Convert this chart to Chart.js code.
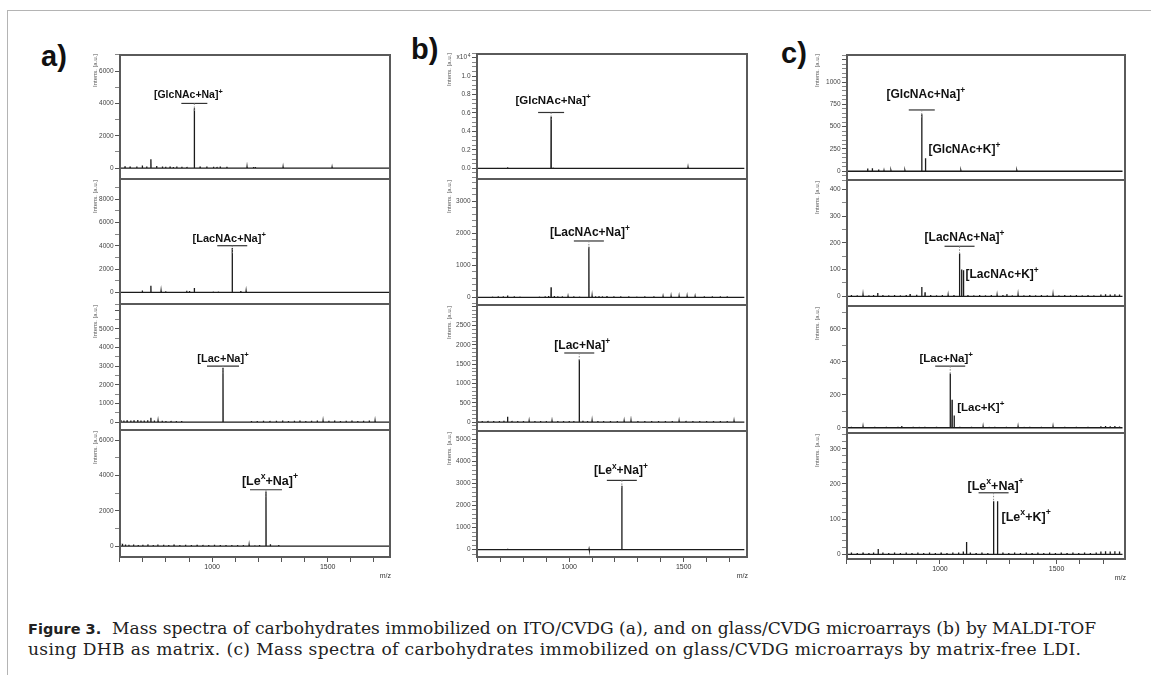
<!DOCTYPE html>
<html>
<head>
<meta charset="utf-8">
<script src="https://cdn.jsdelivr.net/npm/chart.js@4.4.1/dist/chart.umd.min.js"></script>
<style>
  body { margin: 0; width: 1151px; height: 675px; background: #fff; position: relative; overflow: hidden; }
  .rule-top { position: absolute; left: 7px; top: 10px; width: 1144px; height: 0; border-top: 1.5px solid #b4b4b4; }
  .rule-left { position: absolute; left: 7px; top: 10px; width: 0; height: 665px; border-left: 1.5px solid #b4b4b4; }
  .plot { position: absolute; }
  .tag { position: absolute; font: bold 29px "Liberation Sans", Arial, sans-serif; color: #111; line-height: 1; }
  .cap { position: absolute; left: 28px; font: 17.1px "DejaVu Serif", serif; line-height: 21px; color: #222; white-space: nowrap; }
  .cap b { font-family: "DejaVu Sans", sans-serif; font-size: 14.5px; }
</style>
</head>
<body>
<div class="rule-top"></div>
<div class="rule-left"></div>
<div class="tag" style="left:41px; top:42px;">a)</div>
<div class="tag" style="left:411px; top:35px;">b)</div>
<div class="tag" style="left:781px; top:39px;">c)</div>
<div class="cap" style="top:618px;"><b>Figure 3.</b>&nbsp; Mass spectra of carbohydrates immobilized on ITO/CVDG (a), and on glass/CVDG microarrays (b) by MALDI-TOF</div>
<div class="cap" style="top:639px; letter-spacing:0.35px;">using DHB as matrix. (c) Mass spectra of carbohydrates immobilized on glass/CVDG microarrays by matrix-free LDI.</div>

<script>
// m/z axis
const xTicks = [600, 700, 800, 900, 1000, 1100, 1200, 1300, 1400, 1500, 1600, 1700];
const xLabels = [1000, 1500];
const scanA = [598, 1772];
const scanB = [596, 1765];
const scanC = [598, 1783];

// spectra: [m/z, intensity]
const specA1 = [[601,380],[623,110],[645,90],[674,100],[698,160],[717,90],[735,540],[760,120],[785,90],[799,80],[818,100],[832,70],[847,90],[869,80],[891,70],[923,3700],[948,90],[977,100],[1006,80],[1021,70],[1035,90],[1064,80],[1151,70],[1179,60],[1187,70],[1307,60],[1519,50]];
const specA2 = [[698,170],[735,560],[779,110],[799,90],[890,140],[902,110],[923,370],[1005,80],[1027,70],[1046,60],[1087,3800],[1124,110],[1147,100],[1244,50]];
const specA3 = [[605,110],[618,90],[632,100],[648,80],[662,90],[678,110],[692,80],[706,90],[721,100],[735,230],[750,80],[766,60],[784,70],[800,50],[822,60],[845,50],[868,60],[1047,2900],[1170,60],[1195,50],[1222,70],[1250,60],[1278,70],[1305,80],[1330,60],[1356,70],[1380,80],[1405,60],[1430,70],[1455,80],[1480,60],[1505,70],[1530,80],[1555,60],[1580,70],[1605,80],[1630,60],[1655,70],[1680,80],[1705,60]];
const specA4 = [[603,180],[612,140],[625,100],[640,80],[660,90],[680,70],[700,80],[722,100],[745,70],[765,90],[790,80],[812,70],[835,90],[860,70],[885,80],[910,60],[935,80],[960,70],[985,60],[1010,80],[1035,70],[1060,60],[1085,70],[1110,60],[1135,70],[1160,60],[1185,50],[1205,60],[1233,3100],[1252,110],[1288,60]];
const specB1 = [[731,0.012],[921,0.56],[930,0.008],[1519,0.01]];
const specB2 = [[665,25],[690,30],[712,35],[731,60],[760,30],[785,25],[870,25],[895,35],[910,40],[921,310],[935,40],[950,30],[970,30],[995,25],[1020,30],[1045,25],[1086,1580],[1100,40],[1115,35],[1130,35],[1145,30],[1165,40],[1195,30],[1225,30],[1260,30],[1295,25],[1330,30],[1370,30],[1410,25],[1445,30],[1480,30],[1515,30],[1550,25],[1590,35],[1625,30],[1660,30],[1690,30]];
const specB3 = [[600,30],[620,25],[645,30],[670,25],[695,30],[715,35],[731,140],[750,30],[775,25],[800,30],[825,25],[850,30],[875,25],[900,30],[925,25],[950,30],[975,25],[1000,30],[1020,30],[1044,1620],[1060,35],[1080,30],[1100,30],[1125,25],[1150,30],[1180,25],[1210,30],[1240,25],[1270,30],[1300,25],[1330,30],[1360,25],[1390,30],[1420,25],[1450,30],[1480,25],[1510,30],[1540,25],[1570,30],[1600,25],[1630,30],[1660,25],[1690,30],[1720,25]];
const specB4 = [[731,40],[1087,30],[1230,2900]];
const specC1 = [[601,105],[620,8],[650,6],[690,30],[710,35],[737,20],[760,8],[790,6],[820,8],[850,6],[880,8],[905,10],[922,640],[938,145],[955,10],[980,8],[1010,6],[1050,8],[1090,6],[1130,8],[1170,6],[1210,8],[1250,6],[1290,8],[1330,6],[1370,8],[1410,6],[1450,8],[1490,6],[1530,8],[1570,6],[1610,8],[1650,6],[1690,8],[1730,6],[1770,8]];
const specC2 = [[600,12],[620,5],[645,4],[670,5],[695,4],[715,5],[733,12],[755,5],[780,4],[805,5],[830,4],[855,5],[872,8],[900,6],[922,35],[936,15],[960,5],[985,4],[1010,5],[1035,4],[1060,5],[1084,160],[1093,100],[1101,97],[1120,5],[1145,4],[1170,5],[1195,4],[1220,5],[1245,4],[1270,5],[1287,8],[1310,4],[1335,5],[1360,4],[1385,5],[1410,4],[1435,5],[1460,4],[1485,5],[1510,4],[1535,5],[1560,4],[1585,5],[1610,4],[1635,5],[1660,4],[1690,7],[1710,8],[1730,7],[1750,8],[1770,7]];
const specC3 = [[601,50],[620,6],[645,5],[670,6],[695,5],[720,6],[745,5],[770,6],[795,5],[820,6],[836,10],[860,5],[885,6],[910,5],[935,6],[960,5],[985,6],[1010,5],[1044,330],[1052,170],[1061,75],[1085,6],[1110,5],[1135,6],[1160,5],[1185,6],[1210,5],[1235,6],[1260,5],[1285,6],[1310,5],[1335,6],[1360,5],[1385,6],[1410,5],[1435,6],[1460,5],[1485,6],[1510,5],[1535,6],[1560,5],[1585,6],[1610,5],[1635,6],[1660,5],[1690,9],[1710,10],[1730,9],[1750,10],[1770,8]];
const specC4 = [[600,20],[620,5],[645,4],[670,5],[695,4],[715,5],[735,15],[755,5],[780,4],[805,5],[830,4],[855,5],[880,4],[905,5],[930,4],[955,5],[980,4],[1005,5],[1030,4],[1055,5],[1080,5],[1100,8],[1114,35],[1130,5],[1155,4],[1180,5],[1205,4],[1230,151],[1247,151],[1270,5],[1295,4],[1320,5],[1345,4],[1370,5],[1395,4],[1420,5],[1445,4],[1470,5],[1495,4],[1520,5],[1545,4],[1570,5],[1595,4],[1620,5],[1645,4],[1670,5],[1690,8],[1710,9],[1730,8],[1750,9],[1770,8]];

// y axes: [min, max, labelled step, minor step, highest label]
const yAxesA = [[-740, 7060, 2000, 1000, 6000], [-1080, 9630, 2000, 1000, 8000], [-480, 6280, 1000, 500, 5000], [-670, 6530, 2000, 1000, 6000]];
const yAxesB = [[-0.127, 1.25, 0.2, 0.05, 1.0], [-272, 3666, 1000, 200, 3000], [-258, 3008, 500, 100, 2500], [-377, 5332, 1000, 200, 5000]];
const yAxesC = [[-109, 1314, 250, 50, 1000], [-40, 431, 100, 50, 400], [-38, 733, 200, 100, 600], [-16, 342, 100, 20, 300]];

// peak labels: mz, bar level (or text baseline for side labels), text
const labelsA = [
  [{ mz: 923, at: 4000, text: '[GlcNAc+Na]^+', dx: -6, dy: 5, size: 10.5, half: 13 }],
  [{ mz: 1087, at: 4000, text: '[LacNAc+Na]^+', dx: -3, dy: 4, size: 11, half: 15 }],
  [{ mz: 1047, at: 3000, text: '[Lac+Na]^+', dx: 0, dy: 4, size: 11, half: 16 }],
  [{ mz: 1233, at: 3200, text: '[Le^x+Na]^+', dx: 4, dy: 5, size: 12.5, half: 16 }]
];
const labelsB = [
  [{ mz: 921, at: 0.605, text: '[GlcNAc+Na]^+', dx: 2, dy: 8, size: 11.5, half: 13 }],
  [{ mz: 1086, at: 1760, text: '[LacNAc+Na]^+', dx: 1, dy: 5, size: 12, half: 15 }],
  [{ mz: 1044, at: 1790, text: '[Lac+Na]^+', dx: 3, dy: 4, size: 12, half: 15 }],
  [{ mz: 1230, at: 3140, text: '[Le^x+Na]^+', dx: -1, dy: 6, size: 12, half: 15 }]
];
const labelsC = [
  [{ mz: 922, at: 687, text: '[GlcNAc+Na]^+', dx: 4, dy: 12, size: 12, half: 13 },
   { mz: 938, at: 203, text: '[GlcNAc+K]^+', dx: 3, size: 12, side: true }],
  [{ mz: 1084, at: 187, text: '[LacNAc+Na]^+', dx: 5, dy: 5, size: 12, half: 15 },
   { mz: 1101, at: 67, text: '[LacNAc+K]^+', dx: 2, size: 12, side: true }],
  [{ mz: 1044, at: 374, text: '[Lac+Na]^+', dx: -4, dy: 4, size: 11.5, half: 15 },
   { mz: 1061, at: 100, text: '[Lac+K]^+', dx: 3, size: 11.5, side: true }],
  [{ mz: 1230, at: 175, text: '[Le^x+Na]^+', dx: 2, dy: 3, size: 12.5, half: 15 },
   { mz: 1247, at: 95, text: '[Le^x+K]^+', dx: 4, size: 12.5, side: true }]
];

const panels = [
  { left: 119, right: 391, tops: [54, 180, 305, 431, 558], axw: 30, range: [597, 1774], scan: scanA, specs: [specA1, specA2, specA3, specA4], axes: yAxesA, labels: labelsA },
  { left: 476, right: 748, tops: [53, 180, 306, 432, 558], axw: 33, range: [593, 1781], scan: scanB, specs: [specB1, specB2, specB3, specB4], axes: yAxesB, labels: labelsB, unit: true },
  { left: 846, right: 1126, tops: [54, 181, 307, 434, 560], axw: 35, range: [597, 1798], scan: scanC, specs: [specC1, specC2, specC3, specC4], axes: yAxesC, labels: labelsC }
];

const XAXIS_H = 22;
const FONT = '"Liberation Sans", Arial, sans-serif';

// stick spectrum -> line points
function sticks(spec, scan) {
  const pts = [{ x: scan[0], y: 0 }];
  spec.forEach(([mz, h]) => {
    pts.push({ x: mz - 0.6, y: 0 }, { x: mz, y: h }, { x: mz + 0.6, y: 0 });
  });
  pts.push({ x: scan[1], y: 0 });
  return pts;
}

function parseRich(str) {
  const parts = [];
  for (let i = 0; i < str.length; i++) {
    if (str[i] === '^') { parts.push({ t: str[i + 1], sup: true }); i++; }
    else if (parts.length && !parts[parts.length - 1].sup) parts[parts.length - 1].t += str[i];
    else parts.push({ t: str[i], sup: false });
  }
  return parts;
}

function drawRich(ctx, str, x, y, size, align) {
  const parts = parseRich(str);
  const fBase = `bold ${size}px ${FONT}`;
  const fSup = `bold ${size * 0.7}px ${FONT}`;
  let w = 0;
  parts.forEach(p => { ctx.font = p.sup ? fSup : fBase; p.w = ctx.measureText(p.t).width; w += p.w; });
  let cx = align === 'center' ? x - w / 2 : x;
  ctx.textAlign = 'left';
  ctx.textBaseline = 'alphabetic';
  parts.forEach(p => {
    ctx.font = p.sup ? fSup : fBase;
    ctx.fillText(p.t, cx, p.sup ? y - size * 0.45 : y);
    cx += p.w;
  });
}

function framePlugin(first) {
  return {
    id: 'frame',
    afterDraw(chart) {
      const { ctx, chartArea: a } = chart;
      ctx.save();
      ctx.strokeStyle = '#5a5a5a';
      ctx.lineWidth = 2;
      ctx.beginPath();
      ctx.moveTo(a.left + 1, a.top);
      ctx.lineTo(a.left + 1, a.bottom);
      ctx.moveTo(a.right - 1, a.top);
      ctx.lineTo(a.right - 1, a.bottom);
      ctx.moveTo(a.left, a.bottom - 1);
      ctx.lineTo(a.right, a.bottom - 1);
      if (first) {
        ctx.moveTo(a.left, a.top + 1);
        ctx.lineTo(a.right, a.top + 1);
      }
      ctx.stroke();
      ctx.restore();
    }
  };
}

function labelPlugin(items, unit) {
  return {
    id: 'peakLabels',
    afterDatasetsDraw(chart) {
      const { ctx, scales: { x, y }, chartArea: a } = chart;
      ctx.save();
      ctx.fillStyle = '#111';
      items.forEach(l => {
        const px = x.getPixelForValue(l.mz);
        const py = y.getPixelForValue(l.at);
        if (l.side) {
          drawRich(ctx, l.text, px + l.dx, py, l.size, 'left');
          return;
        }
        ctx.strokeStyle = '#333';
        ctx.lineWidth = 1.2;
        ctx.beginPath();
        ctx.moveTo(px - l.half, py);
        ctx.lineTo(px + l.half, py);
        ctx.stroke();
        drawRich(ctx, l.text, px + l.dx, py - l.dy, l.size, 'center');
        // dashed guide from bar down to peak
        ctx.strokeStyle = '#888';
        ctx.lineWidth = 1;
        ctx.setLineDash([1.5, 1.5]);
        ctx.beginPath();
        ctx.moveTo(px, py);
        ctx.lineTo(px, py + 8);
        ctx.stroke();
        ctx.setLineDash([]);
      });
      if (unit) {
        // x10^4 multiplier in place of the top label
        ctx.fillStyle = '#444';
        ctx.textBaseline = 'middle';
        const ty = y.getPixelForValue(1.2);
        ctx.font = `5px ${FONT}`;
        ctx.textAlign = 'right';
        ctx.fillText('4', a.left - 5.5, ty - 2);
        ctx.font = `6.5px ${FONT}`;
        ctx.fillText('x10', a.left - 9, ty);
      }
      ctx.restore();
    }
  };
}

function isMajor(v, step) {
  const r = v / step;
  return Math.abs(r - Math.round(r)) < 1e-6;
}

function makeSubplot(p, i) {
  const last = i === 3;
  const top = p.tops[i];
  const h = p.tops[i + 1] - top + (last ? XAXIS_H : 0);
  const w = p.axw + (p.right - p.left);
  const div = document.createElement('div');
  div.className = 'plot';
  div.style.left = (p.left - p.axw) + 'px';
  div.style.top = top + 'px';
  div.style.width = w + 'px';
  div.style.height = h + 'px';
  const cv = document.createElement('canvas');
  cv.width = w; cv.height = h;
  cv.style.width = w + 'px'; cv.style.height = h + 'px';
  div.appendChild(cv);
  document.body.appendChild(div);

  const [yMin, yMax, yStep, yMinor, yTop] = p.axes[i];
  const yTicks = [];
  for (let k = Math.ceil(yMin / yMinor); k * yMinor <= yMax; k++) yTicks.push(+(k * yMinor).toFixed(4));
  const dec = yStep < 1 ? 1 : 0;

  new Chart(cv, {
    type: 'line',
    data: {
      datasets: [{
        data: sticks(p.specs[i], p.scan),
        borderColor: '#1b1b1b',
        borderWidth: 1.3,
        pointRadius: 0,
        tension: 0,
        fill: false
      }]
    },
    options: {
      responsive: false,
      animation: false,
      devicePixelRatio: 1,
      events: [],
      layout: { padding: 0 },
      plugins: { legend: { display: false }, tooltip: { enabled: false } },
      scales: {
        x: {
          type: 'linear',
          min: p.range[0],
          max: p.range[1],
          display: last,
          afterBuildTicks: s => { s.ticks = xTicks.map(v => ({ value: v })); },
          afterFit: s => {
            s.height = last ? XAXIS_H : 0;
            s.paddingLeft = 0; s.paddingRight = 0;
          },
          ticks: {
            autoSkip: false, maxRotation: 0, padding: 1,
            color: '#333', font: { family: FONT, size: 7 },
            callback: v => xLabels.includes(v) ? String(v) : ''
          },
          grid: { drawOnChartArea: false, tickLength: 4, color: '#555', tickWidth: 1 },
          border: { display: false },
          title: { display: true, text: 'm/z', align: 'end', color: '#333', font: { family: FONT, size: 7 }, padding: { top: 0, bottom: 0 } }
        },
        y: {
          type: 'linear',
          min: yMin,
          max: yMax,
          afterBuildTicks: s => { s.ticks = yTicks.map(v => ({ value: v })); },
          afterFit: s => { s.width = p.axw; s.paddingTop = 0; s.paddingBottom = 0; },
          ticks: {
            autoSkip: false, padding: 1.5,
            color: '#444', font: { family: FONT, size: 6.5 },
            callback: v => (isMajor(v, yStep) && v >= 0 && v <= yTop + 1e-6) ? v.toFixed(dec) : ''
          },
          grid: {
            drawOnChartArea: false, tickLength: 4, color: '#555',
            tickWidth: c => isMajor(c.tick.value, yStep) ? 1 : 0.7
          },
          border: { display: false },
          title: { display: true, text: 'Intens. [a.u.]', align: 'end', color: '#555', font: { family: FONT, size: 6 }, padding: { top: 3, bottom: 0 } }
        }
      }
    },
    plugins: [framePlugin(i === 0), labelPlugin(p.labels[i], p.unit && i === 0)]
  });
}

panels.forEach(p => {
  for (let i = 0; i < 4; i++) makeSubplot(p, i);
});
</script>
</body>
</html>
